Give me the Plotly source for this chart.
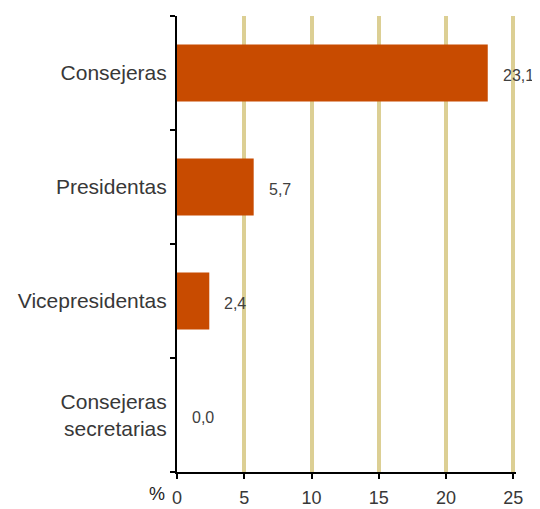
import plotly.graph_objects as go

categories = ["Consejeras", "Presidentas", "Vicepresidentas", "Consejeras<br>secretarias"]
values = [23.1, 5.7, 2.4, 0.0]
value_labels = ["23,1", "5,7", "2,4", "0,0"]
x_ticks = [0, 5, 10, 15, 20, 25]

bar_color = "#C84B00"
grid_color = "#DCCF94"
text_color = "#404040"
FONT = "Liberation Sans, Arial, sans-serif"

fig = go.Figure(go.Bar(
    x=values, y=categories, orientation="h",
    marker=dict(color=bar_color, line=dict(width=0)),
    width=0.5,
))

for v, lab, c in zip(values, value_labels, categories):
    fig.add_annotation(x=v, y=c, text=lab, showarrow=False, xanchor="left",
                       xshift=13, yshift=-2, font=dict(size=16, color=text_color, family=FONT))

fig.add_annotation(x=0, y=0, xref="paper", yref="paper", text="%",
                   showarrow=False, xanchor="right", yanchor="top", yshift=-10, xshift=-10,
                   font=dict(size=18, color="#222222", family=FONT))

fig.update_layout(
    width=532, height=501,
    margin=dict(l=169, r=24, t=8, b=37),
    paper_bgcolor="white", plot_bgcolor="white",
    showlegend=False,
    font=dict(family=FONT, size=18, color="#333333"),
    xaxis=dict(range=[0, 25.2], tickvals=x_ticks, ticktext=[str(t) for t in x_ticks],
               showgrid=True, gridcolor=grid_color, gridwidth=4,
               zeroline=False, showline=True, linecolor="black", linewidth=2,
               ticks="outside", ticklen=5, tickcolor="black", tickwidth=2,
               ticklabelstandoff=3, automargin=False,
               tickfont=dict(size=18, color="#383838", family=FONT)),
    yaxis=dict(categoryorder="array", categoryarray=categories[::-1],
               autorange=False, range=[-0.5, 3.5],
               showgrid=False, zeroline=False, showline=True, linecolor="black", linewidth=2,
               ticks="outside", tickson="boundaries", ticklen=5, tickcolor="black", tickwidth=2,
               ticklabelstandoff=4, automargin=False,
               tickfont=dict(size=21, color="#383838", family=FONT)),
)

fig.write_html("out.html")
